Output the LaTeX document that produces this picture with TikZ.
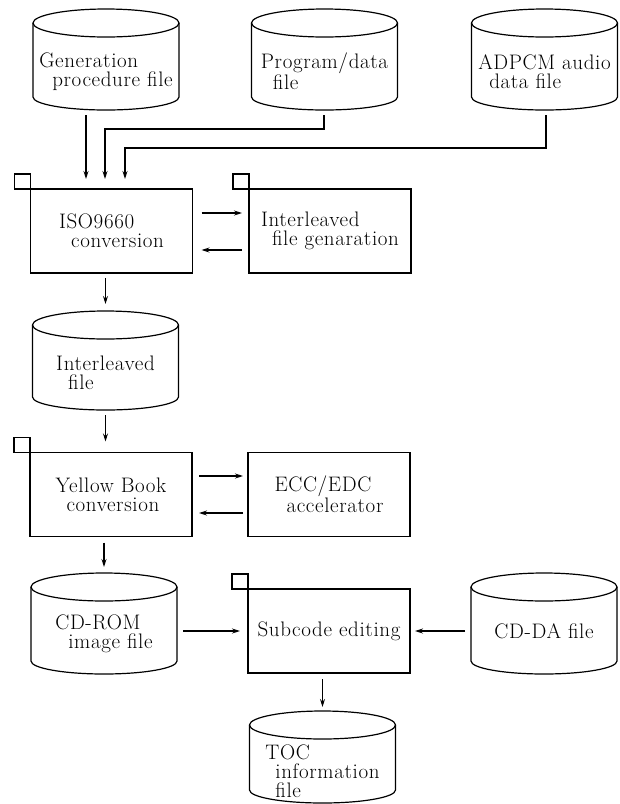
\documentclass[tikz,border=0pt]{standalone}
\usepackage{fontspec}
\setmainfont{Latin Modern Roman}[LetterSpace=3]
\usetikzlibrary{arrows.meta}

\begin{document}
\begin{tikzpicture}[x=1pt, y=-1pt, line width=1.2pt,
    every node/.style={font=\fontsize{21}{19}\selectfont},
    dbfile/.style={minimum width=146pt, minimum height=101pt, inner sep=0pt, outer sep=0pt},
    procbox/.style={draw, minimum width=162pt, minimum height=84pt, inner sep=0pt, outer sep=0pt, align=left},
    lbl/.style={align=left, inner sep=0pt},
    arr/.style={-{Stealth[length=8pt,width=5pt]}, line width=1.1pt}]
    \useasboundingbox (0,0) rectangle (620,804);
    % files (cylinders)
    \node[dbfile] (gen) at (106,59.5) {};
    \node[dbfile] (prog) at (324.5,59.5) {};
    \node[dbfile] (adpcm) at (544.5,59.5) {};
    \node[dbfile, minimum height=99pt] (ilfile) at (105.5,360.5) {};
    \node[dbfile] (cdrom) at (104,623.5) {};
    \node[dbfile] (cdda) at (544,623.5) {};
    \node[dbfile, minimum height=92pt] (toc) at (322.5,757) {};
    \foreach \n in {gen,prog,adpcm,ilfile,cdrom,cdda,toc}{
        \draw ([yshift=-14pt]\n.north) ellipse [x radius=73pt, y radius=14pt];
        \draw ([yshift=-14pt]\n.north west) -- ([yshift=13pt]\n.south west)
            arc [start angle=180, end angle=360, x radius=73pt, y radius=13pt]
            -- ([yshift=-14pt]\n.north east);
    }
    \node[lbl] (gen-t) at ([yshift=-12pt]gen.center) {Generation\\\hspace*{13pt}procedure file};
    \node[lbl] (prog-t) at ([yshift=-12pt]prog.center) {Program/data\\\hspace*{12pt}file};
    \node[lbl] (adpcm-t) at ([yshift=-12pt]adpcm.center) {ADPCM audio\\\hspace*{11pt}data file};
    \node[lbl] (ilfile-t) at ([yshift=-12pt]ilfile.center) {Interleaved\\\hspace*{12pt}file};
    \node[lbl] (cdrom-t) at ([yshift=-10pt]cdrom.center) {CD-ROM\\\hspace*{13pt}image file};
    \node[lbl] (cdda-t) at ([yshift=-7.5pt]cdda.center) {CD-DA file};
    \node[lbl] (toc-t) at ([yshift=-14.5pt]toc.center) {TOC\\\hspace*{10pt}information\\\hspace*{10pt}file};
    % processes
    \node[procbox] (iso) at (111.5,231) {ISO9660\\\hspace*{12pt}conversion};
    \node[procbox] (ilgen) at (330,231) {Interleaved\\\hspace*{11pt}file genaration};
    \node[procbox] (yellow) at (111,494.5) {Yellow Book\\\hspace*{11pt}conversion};
    \node[procbox] (ecc) at (329,494.5) {ECC/EDC\\\hspace*{12pt}accelerator};
    \node[procbox] (subcode) at (329,631) {Subcode editing};
    \foreach \n in {iso,ilgen,yellow,subcode}
        \draw (\n.north west) rectangle ++(-16pt,15pt);
    % connectors
    \draw[arr, shorten <=5pt, shorten >=10pt] ([xshift=-20pt]gen.south) -- ([xshift=-20pt]gen.south |- iso.north);
    \draw[arr, shorten <=5pt, shorten >=10pt] ([xshift=-0.5pt]prog.south) -- ++(0,19) -| ([xshift=-6.5pt]iso.north);
    \draw[arr, shorten <=5pt, shorten >=10pt] ([xshift=1.5pt]adpcm.south) -- ++(0,38) -| ([xshift=13.5pt]iso.north);
    \draw[arr, shorten <=9pt, shorten >=7pt] ([yshift=18pt]iso.east) -- ([yshift=18pt]iso.east -| ilgen.west);
    \draw[arr, shorten <=7pt, shorten >=9pt] ([yshift=-19pt]ilgen.west) -- ([yshift=-19pt]ilgen.west -| iso.east);
    \draw[arr, shorten <=5pt, shorten >=7pt] (iso.south -| ilfile.north) -- (ilfile.north);
    \draw[arr, shorten <=5pt, shorten >=11pt] (ilfile.south) -- (ilfile.south |- yellow.north);
    \draw[arr, shorten <=7pt, shorten >=5pt] ([yshift=18.5pt]yellow.east) -- ([yshift=18.5pt]yellow.east -| ecc.west);
    \draw[arr, shorten <=5pt, shorten >=7pt] ([yshift=-18.5pt]ecc.west) -- ([yshift=-18.5pt]ecc.west -| yellow.east);
    \draw[arr, shorten <=6pt, shorten >=6pt] (yellow.south -| cdrom.north) -- (cdrom.north);
    \draw[arr, shorten <=6pt, shorten >=8pt] (subcode.west -| cdrom.east) -- (subcode.west);
    \draw[arr, shorten <=6pt, shorten >=5pt] (subcode.east -| cdda.west) -- (subcode.east);
    \draw[arr, shorten <=6pt, shorten >=4pt] (subcode.south -| toc.north) -- (toc.north);
\end{tikzpicture}
\end{document}
